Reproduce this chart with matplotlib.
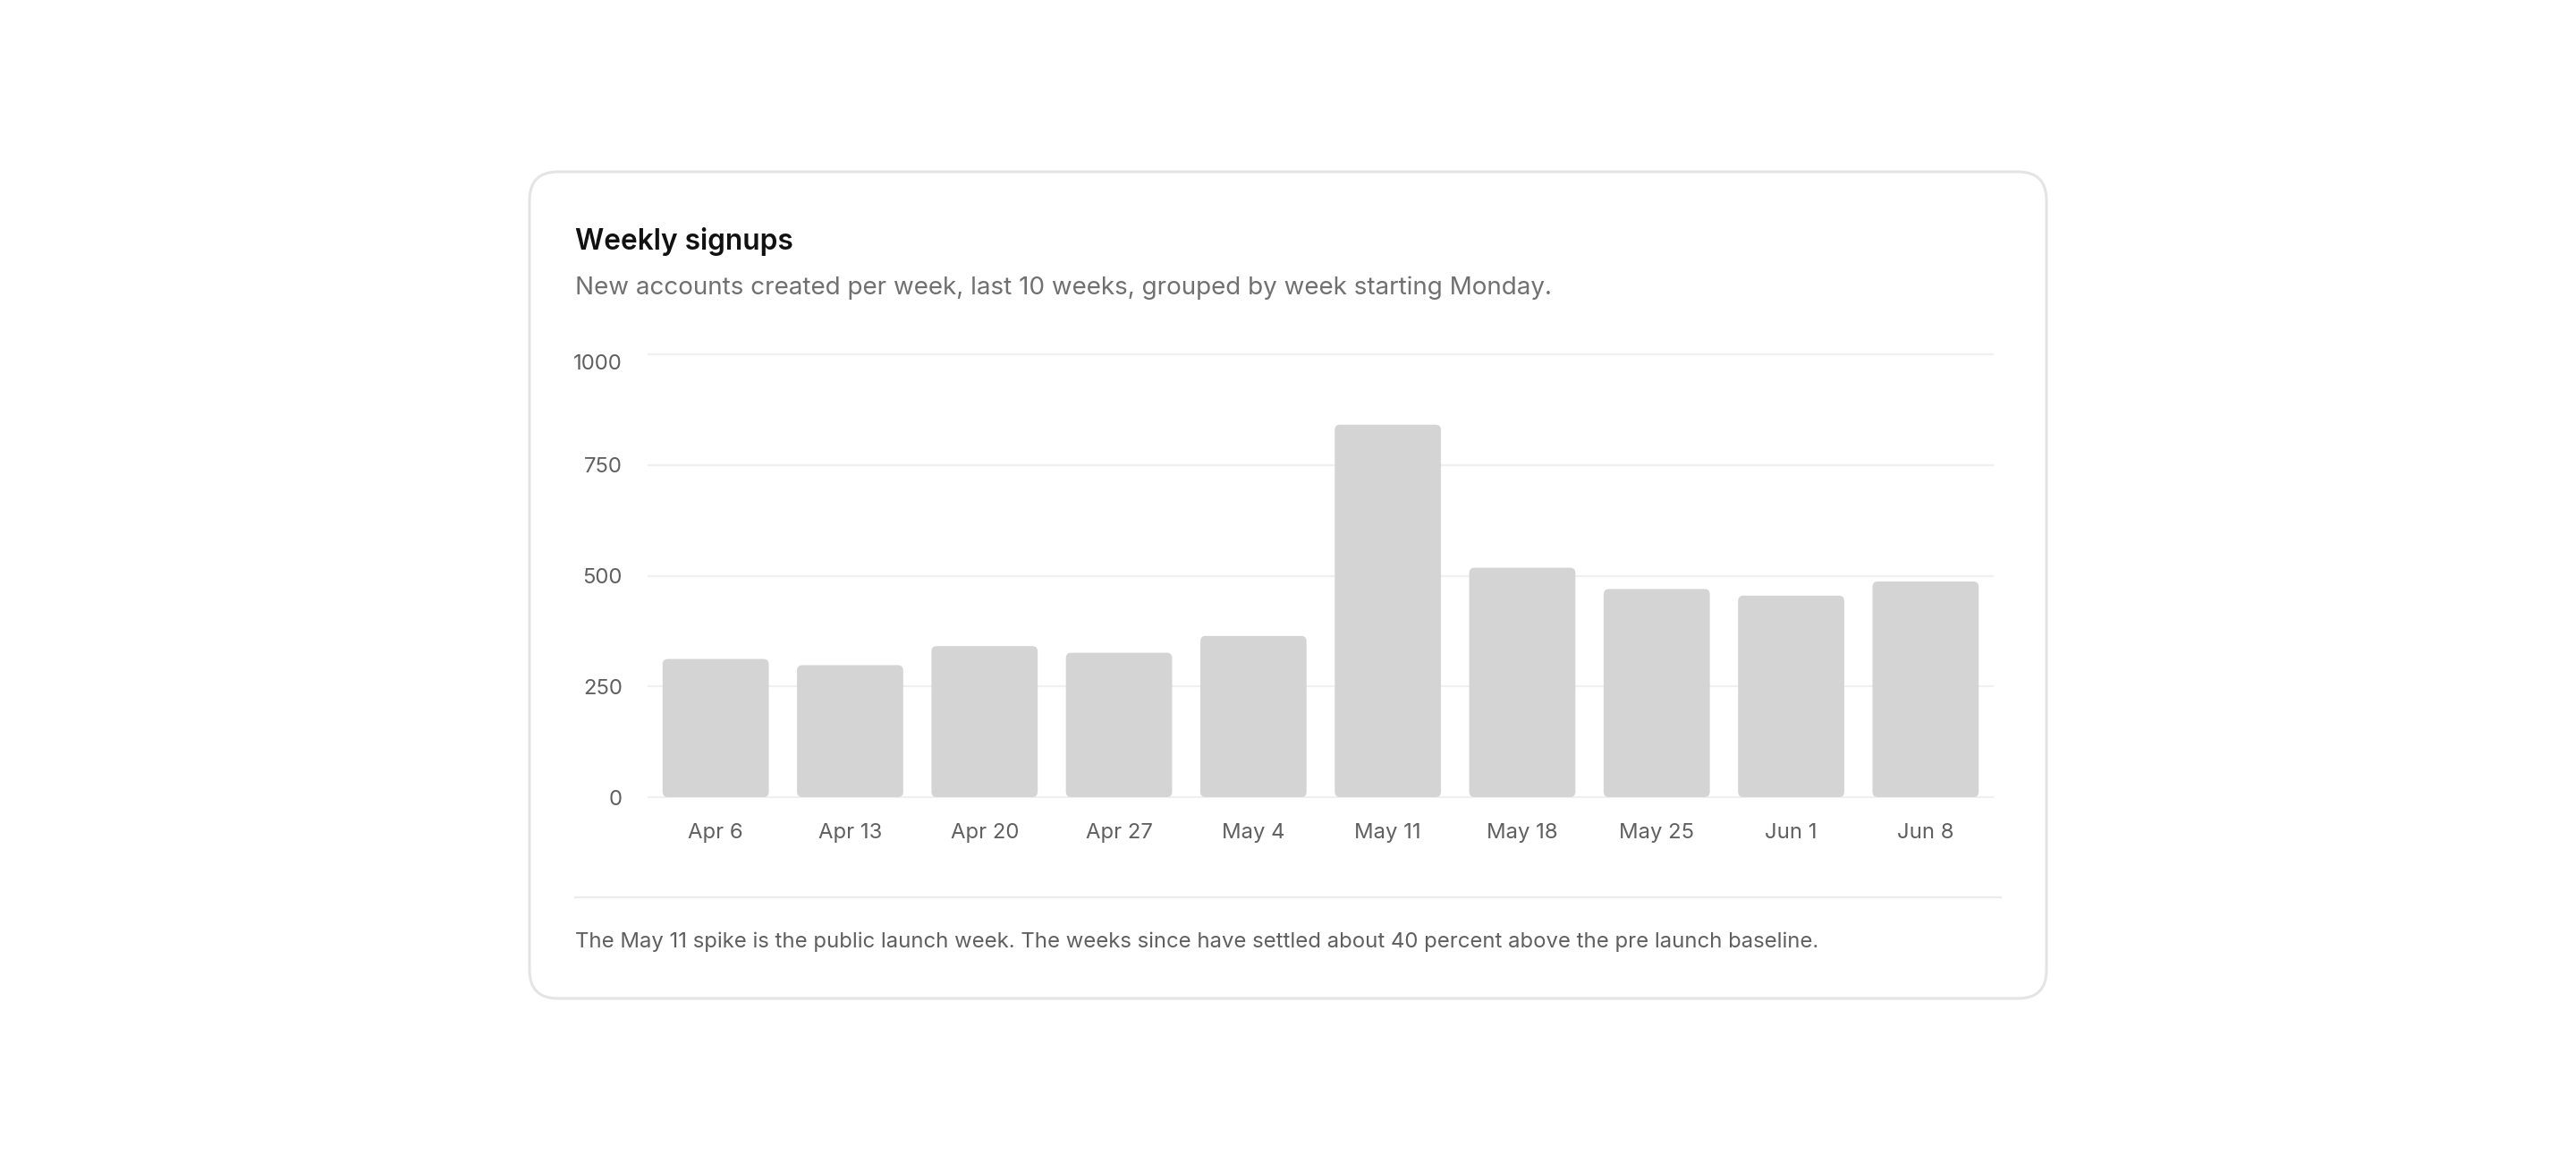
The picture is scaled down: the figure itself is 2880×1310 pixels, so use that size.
import matplotlib
matplotlib.use("Agg")
import matplotlib.pyplot as plt
from matplotlib.patches import FancyBboxPatch
from matplotlib.transforms import ScaledTranslation

# data
weeks = ["Apr 6", "Apr 13", "Apr 20", "Apr 27", "May 4",
         "May 11", "May 18", "May 25", "Jun 1", "Jun 8"]
signups = [312, 298, 341, 326, 364, 841, 518, 470, 455, 487]
yticks = [0, 250, 500, 750, 1000]

title = "Weekly signups"
subtitle = "New accounts created per week, last 10 weeks, grouped by week starting Monday."
note = ("The May 11 spike is the public launch week. The weeks since have settled "
        "about 40 percent above the pre launch baseline.")

plt.rcParams['font.family'] = ['Inter', 'DejaVu Sans']

W, H = 2880, 1310
DPI = 200
fig = plt.figure(figsize=(W / DPI, H / DPI), dpi=DPI)
fig.patch.set_facecolor("white")

def fx(px):
    return px / W

def fy(px):
    return 1 - px / H

# card
card = FancyBboxPatch((fx(592), fy(1116)), fx(2288) - fx(592), fy(192) - fy(1116),
                      boxstyle="round,pad=0,rounding_size=0.011",
                      mutation_aspect=W / H,
                      transform=fig.transFigure, facecolor="white",
                      edgecolor="#e4e4e4", linewidth=1.1, zorder=-5)
fig.patches.append(card)

fig.text(fx(643), fy(270), title, fontsize=11.4, fontweight="semibold",
         color="#111111", ha="left", va="center")
fig.text(fx(643), fy(322), subtitle, fontsize=10.0, color="#707070",
         ha="left", va="center")

# footnote divider and text
fig.add_artist(plt.Line2D([fx(643), fx(2237)], [fy(1003), fy(1003)],
                          transform=fig.transFigure, color="#ececec", linewidth=0.8))
fig.text(fx(643), fy(1053), note, fontsize=8.6, color="#5f5f5f",
         ha="left", va="center")

# plot area
ax_l, ax_r, ax_t, ax_b = 725, 2228, 396, 891
ax = fig.add_axes([fx(ax_l), fy(ax_b), fx(ax_r) - fx(ax_l), fy(ax_t) - fy(ax_b)])
ax.set_facecolor("none")
ax.set_zorder(2)
ax.set_xlim(-0.5, len(weeks) - 0.5)
ax.set_ylim(0, 1000)

for y in yticks:
    ax.axhline(y, color="#f0f0f0", linewidth=0.8, zorder=0, clip_on=False)

px_per_x = (ax_r - ax_l) / len(weeks)
px_per_y = (ax_b - ax_t) / 1000.0
bw = 0.79
r = 6 / px_per_x
for i, v in enumerate(signups):
    ax.add_patch(FancyBboxPatch((i - bw / 2, 0), bw, v,
                                boxstyle="round,pad=0,rounding_size=%f" % r,
                                mutation_aspect=px_per_x / px_per_y,
                                facecolor="#d4d4d4", edgecolor="none", zorder=2))

ax.set_xticks(range(len(weeks)))
ax.set_xticklabels(weeks)
ax.set_yticks(yticks)
ax.set_yticklabels([str(t) for t in yticks])
ax.tick_params(axis="both", length=0, labelsize=8.6, labelcolor="#606060")
ax.tick_params(axis="x", pad=10.5)
ax.tick_params(axis="y", pad=10.5)
for s in ax.spines.values():
    s.set_visible(False)

# top label sits a little lower, inside the chart
top = ax.get_yticklabels()[-1]
top.set_transform(top.get_transform() + ScaledTranslation(0, -9 / DPI, fig.dpi_scale_trans))

fig.savefig("out.png", dpi=DPI, facecolor="white")
